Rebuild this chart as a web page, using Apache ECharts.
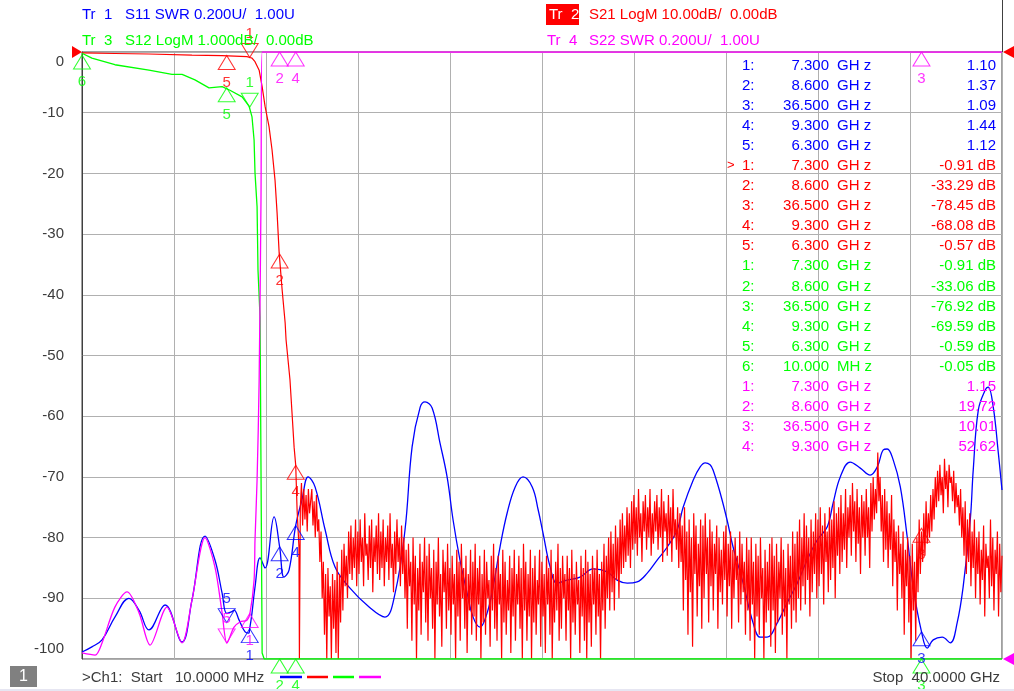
<!DOCTYPE html>
<html>
<head>
<meta charset="utf-8">
<script src="https://cdn.jsdelivr.net/npm/echarts/dist/echarts.min.js"></script>
<style>
  html, body { margin: 0; padding: 0; background: #fff; }
  #chart { width: 1014px; height: 691px; }
</style>
</head>
<body>
<div id="chart"></div>
<script>
// sweep
const startGHz = 0.01;
const stopGHz = 40;

// Tr 1  S11 SWR (0.2 U/div, ref 1.00 at bottom)
const s11GHz = [0.01, 0.44, 0.88, 1.44, 2.05, 2.49, 2.92, 3.62, 4.36, 4.79, 5.36, 5.79, 6.10, 6.30, 6.50, 6.62, 6.84, 7.10, 7.25, 7.30, 7.40, 7.53, 7.75, 7.97, 8.36, 8.60, 8.79, 9.01, 9.30, 9.57, 9.84, 10.14, 10.58, 11.01, 11.62, 12.49, 13.18, 13.62, 14.05, 14.36, 14.71, 14.92, 15.23, 15.57, 15.88, 16.14, 16.44, 16.75, 17.01, 17.31, 17.62, 17.88, 18.18, 18.49, 18.84, 19.18, 19.58, 19.84, 20.05, 20.36, 20.66, 21.10, 21.66, 22.23, 22.84, 23.27, 23.71, 24.14, 24.58, 25.01, 25.45, 25.88, 26.14, 26.58, 26.88, 27.10, 27.31, 27.44, 27.75, 28.05, 28.31, 28.75, 29.18, 29.49, 29.79, 30.23, 30.66, 31.10, 31.53, 31.97, 32.40, 32.66, 32.97, 33.40, 33.84, 34.27, 34.58, 34.84, 35.01, 35.27, 35.58, 35.88, 36.14, 36.50, 36.75, 37.01, 37.40, 37.75, 38.05, 38.31, 38.62, 38.75, 38.97, 39.27, 39.40, 39.62, 39.84, 40.00];
const s11Swr = [1.023, 1.04, 1.063, 1.138, 1.20, 1.16, 1.096, 1.178, 1.056, 1.194, 1.405, 1.326, 1.217, 1.15, 1.155, 1.161, 1.128, 1.089, 1.085, 1.10, 1.152, 1.237, 1.333, 1.30, 1.468, 1.37, 1.27, 1.293, 1.44, 1.524, 1.60, 1.567, 1.425, 1.303, 1.237, 1.171, 1.138, 1.217, 1.425, 1.70, 1.83, 1.847, 1.827, 1.712, 1.60, 1.458, 1.326, 1.217, 1.138, 1.105, 1.152, 1.237, 1.369, 1.481, 1.567, 1.60, 1.567, 1.491, 1.415, 1.303, 1.25, 1.26, 1.27, 1.297, 1.287, 1.26, 1.25, 1.254, 1.283, 1.326, 1.369, 1.425, 1.50, 1.59, 1.633, 1.646, 1.64, 1.623, 1.547, 1.458, 1.369, 1.25, 1.119, 1.072, 1.072, 1.119, 1.185, 1.25, 1.326, 1.392, 1.435, 1.514, 1.60, 1.649, 1.629, 1.606, 1.633, 1.689, 1.692, 1.656, 1.567, 1.402, 1.237, 1.09, 1.036, 1.063, 1.072, 1.053, 1.119, 1.237, 1.458, 1.623, 1.82, 1.886, 1.896, 1.83, 1.679, 1.557];

// Tr 2  S21 LogM (10 dB/div, ref 0 dB at top): passband + skirt, then stopband noise
const s21GHz = [0.01, 1.44, 2.92, 4.79, 6.10, 7.18, 7.31, 7.40, 7.53, 7.71, 7.84, 7.97, 8.14, 8.27, 8.40, 8.49, 8.58, 8.71, 8.84, 8.88, 9.05, 9.14, 9.23, 9.30, 9.36, 9.44, 9.46];
const s21Db = [-0.16, -0.25, -0.33, -0.5, -0.6, -0.77, -0.91, -1.0, -1.6, -3.0, -5.7, -9.0, -12.3, -16.1, -21.1, -26.5, -33.1, -39.2, -44.6, -47.4, -54.0, -59.5, -65.1, -68.1, -75.5, -81.5, -100];
const s21NoiseStartGHz = 9.5;
const s21NoiseStepGHz = 0.05;
const s21NoiseDb = [
  -75, -71, -78, -72, -77, -73, -79, -72, -76, -74,
  -72, -78, -74, -80, -73, -79, -77, -84, -79, -90, -84, -96, -86, -100, -85, -93, -88, -100, -86, -95,
  -87, -99, -84, -100, -86, -94, -82, -92, -81, -88, -83, -90, -79, -86, -78, -87, -80, -85, -77, -88,
  -79, -86, -77, -84, -80, -88, -76, -83, -81, -87, -78, -85, -77, -89, -80, -84, -78, -86, -76, -87,
  -79, -85, -77, -88, -80, -84, -78, -87, -76, -85, -81, -89, -79, -86, -77, -84, -80, -88, -78, -86,
  -80, -90, -82, -95, -81, -88, -84, -97, -80, -91, -83, -100, -85, -92, -81, -96, -84, -89, -80, -94,
  -83, -97, -81, -90, -85, -95, -82, -100, -84, -91, -80, -93, -86, -98, -82, -89, -84, -95, -81, -92,
  -85, -96, -83, -91, -86, -100, -82, -93, -84, -97, -81, -90, -85, -95, -83, -99, -86, -92, -82, -96,
  -84, -93, -81, -97, -85, -91, -83, -100, -86, -94, -82, -96, -84, -90, -87, -98, -83, -92, -81, -95,
  -85, -97, -83, -91, -86, -100, -82, -94, -84, -96, -87, -92, -83, -99, -85, -93, -82, -97, -86, -91,
  -83, -95, -85, -100, -81, -92, -84, -97, -86, -93, -82, -100, -85, -94, -83, -96, -87, -91, -82, -98,
  -84, -93, -86, -99, -83, -91, -85, -96, -82, -100, -86, -94, -84, -92, -81, -97, -85, -95, -83, -90,
  -86, -97, -83, -92, -85, -100, -82, -94, -86, -96, -84, -91, -87, -99, -83, -93, -85, -97, -82, -100,
  -84, -94, -86, -98, -83, -91, -85, -96, -82, -93, -86, -100, -84, -92, -81, -95, -83, -90, -80, -92,
  -79, -89, -81, -92, -78, -87, -80, -90, -77, -86, -76, -85, -78, -84, -75, -83, -76, -85, -74, -82,
  -73, -81, -75, -83, -72, -80, -76, -84, -74, -79, -73, -82, -75, -80, -72, -83, -76, -81, -74, -79,
  -73, -82, -75, -80, -72, -84, -74, -79, -76, -83, -73, -81, -75, -84, -72, -80, -77, -82, -75, -85,
  -76, -84, -78, -92, -75, -87, -79, -96, -77, -89, -80, -98, -76, -86, -78, -93, -81, -88, -77, -95,
  -78, -90, -76, -86, -80, -94, -77, -88, -79, -92, -81, -86, -78, -95, -80, -89, -82, -91, -79, -87,
  -78, -93, -81, -88, -79, -95, -82, -90, -80, -87, -83, -94, -79, -91, -81, -89, -84, -96, -80, -92,
  -82, -97, -80, -91, -84, -100, -81, -93, -83, -96, -80, -90, -85, -100, -82, -94, -84, -92, -81, -98,
  -80, -92, -83, -99, -81, -94, -84, -90, -80, -96, -82, -93, -85, -100, -81, -91, -83, -95, -79, -92,
  -81, -94, -79, -90, -77, -92, -80, -88, -76, -91, -78, -87, -80, -93, -77, -89, -79, -86, -76, -90,
  -77, -88, -75, -86, -78, -91, -76, -84, -79, -89, -75, -87, -77, -85, -74, -90, -76, -83, -75, -86,
  -73, -84, -76, -82, -72, -85, -75, -80, -73, -83, -71, -79, -74, -84, -72, -81, -75, -86, -73, -80,
  -74, -83, -72, -80, -75, -85, -71, -79, -70, -77, -72, -76, -66, -74, -70, -79, -73, -84, -72, -82,
  -74, -85, -76, -82, -73, -88, -77, -84, -79, -92, -78, -86, -81, -90, -79, -96, -82, -88, -80, -94,
  -83, -100, -81, -92, -84, -97, -80, -89, -77, -86, -79, -84, -76, -83, -74, -81, -76, -80, -73, -79,
  -72, -77, -70, -75, -69, -74, -68, -73, -70, -76, -67, -72, -69, -75, -68, -71, -70, -74, -69, -76,
  -71, -75, -73, -78, -72, -80, -75, -83, -74, -86, -77, -84, -76, -88, -79, -85, -77, -90, -80, -86,
  -79, -91, -82, -87, -78, -93, -81, -85, -83, -90, -77, -88, -80, -92, -82, -86, -79, -93, -81, -89,
  -83
];

// Tr 3  S12 LogM (1 dB/div, ref 0 dB at top) - shown clipped at the bottom edge
const s12GHz = [0.01, 0.44, 1.44, 2.92, 3.92, 4.36, 4.92, 5.53, 6.10, 6.44, 6.97, 7.27, 7.40, 7.49, 7.53, 7.62, 7.66, 7.75, 7.84, 7.93, 40.0];
const s12Db = [-0.02, -0.10, -0.21, -0.30, -0.37, -0.37, -0.46, -0.59, -0.57, -0.63, -0.74, -0.89, -1.07, -1.45, -1.99, -2.55, -3.59, -4.37, -9.9, -10, -10];

// Tr 4  S22 SWR (0.2 U/div, ref 1.00 at bottom) - shown clipped at the top edge
const s22GHz = [0.01, 0.58, 0.88, 1.44, 1.97, 2.49, 2.97, 3.70, 4.36, 4.79, 5.36, 5.79, 6.10, 6.31, 6.62, 6.88, 7.18, 7.31, 7.49, 7.53, 7.62, 7.71, 7.79, 7.84, 40.0];
const s22Swr = [1.02, 1.013, 1.053, 1.171, 1.221, 1.152, 1.046, 1.171, 1.053, 1.194, 1.40, 1.303, 1.152, 1.053, 1.105, 1.122, 1.128, 1.15, 1.26, 1.392, 1.59, 1.919, 2.51, 3.0, 3.0];

// markers (number, frequency, readout)
const s11MkNo = [1, 2, 3, 4, 5];
const s11MkGHz = [7.3, 8.6, 36.5, 9.3, 6.3];
const s11MkVal = [1.10, 1.37, 1.09, 1.44, 1.12];
const s21MkNo = [1, 2, 3, 4, 5];
const s21MkGHz = [7.3, 8.6, 36.5, 9.3, 6.3];
const s21MkVal = [-0.91, -33.29, -78.45, -68.08, -0.57];
const s12MkNo = [1, 2, 3, 4, 5, 6];
const s12MkGHz = [7.3, 8.6, 36.5, 9.3, 6.3, 0.01];
const s12MkVal = [-0.91, -33.06, -76.92, -69.59, -0.59, -0.05];
const s22MkNo = [1, 2, 3, 4, 5];
const s22MkGHz = [7.3, 8.6, 36.5, 9.3, 6.3];
const s22MkVal = [1.15, 19.72, 10.01, 52.62, 1.053];
const s22TableRows = 4;

const s21TickLabels = ['0', '-10', '-20', '-30', '-40', '-50', '-60', '-70', '-80', '-90', '-100'];

const BLUE = '#0000ff', RED = '#ff0000', GREEN = '#00ff00', MAG = '#ff00ff';
const FONT = '"Liberation Sans", Arial, sans-serif';
const GRAY = '#3c3c3c';

function pairs(xs, ys) { return xs.map((x, i) => [x, ys[i]]); }

const s21Data = pairs(s21GHz, s21Db).concat(
  s21NoiseDb.map((v, i) => [+(s21NoiseStartGHz + i * s21NoiseStepGHz).toFixed(3), v])
);

const UP = 'path://M9,0L18,14L0,14Z';
const DOWN = 'path://M0,0L18,0L9,14Z';
function markerSeries(nos, ghz, vals, downNos, lo, hi, color, yIdx) {
  return {
    type: 'scatter', yAxisIndex: yIdx, clip: false, z: 5, silent: true,
    symbolSize: [17, 14],
    itemStyle: { color: 'rgba(0,0,0,0)', borderColor: color, borderWidth: 1 },
    label: { show: true, color: color, fontSize: 15, fontFamily: FONT },
    data: nos.map((n, i) => {
      const down = downNos.indexOf(n) >= 0;
      return {
        value: [ghz[i], Math.min(hi, Math.max(lo, vals[i]))],
        symbol: down ? DOWN : UP,
        symbolOffset: [0, down ? -7 : 7],
        label: { position: down ? 'top' : 'bottom', distance: down ? 2 : 5, formatter: String(n) }
      };
    })
  };
}

function txt(x, y, s, color, align, size) {
  return {
    type: 'text', x: x, y: y, z: 20, silent: true,
    style: {
      text: s, fill: color, font: (size || 15) + 'px ' + FONT,
      textAlign: align || 'left', textVerticalAlign: 'middle',
      align: align || 'left', verticalAlign: 'middle'
    }
  };
}

function fmtFreq(g) {
  return g >= 1 ? [g.toFixed(3), 'GH z'] : [(g * 1000).toFixed(3), 'MH z'];
}

// marker table
const table = [];
let row = 0;
function addTable(nos, ghz, vals, count, color, unit, activeNo) {
  for (let i = 0; i < count; i++) {
    const y = 65.5 + row * 20.08;
    const f = fmtFreq(ghz[i]);
    if (nos[i] === activeNo) table.push(txt(727, y, '>', color, 'left', 13));
    table.push(txt(742, y, nos[i] + ':', color));
    table.push(txt(829, y, f[0], color, 'right'));
    table.push(txt(837, y, f[1], color));
    table.push(txt(996, y, vals[i].toFixed(2) + unit, color, 'right'));
    row++;
  }
}
addTable(s11MkNo, s11MkGHz, s11MkVal, s11MkNo.length, BLUE, '', null);
addTable(s21MkNo, s21MkGHz, s21MkVal, s21MkNo.length, RED, ' dB', 1);
addTable(s12MkNo, s12MkGHz, s12MkVal, s12MkNo.length, GREEN, ' dB', null);
addTable(s22MkNo, s22MkGHz, s22MkVal, s22TableRows, MAG, '', null);

const chart = echarts.init(document.getElementById('chart'));
chart.setOption({
  animation: false,
  backgroundColor: '#ffffff',
  grid: { left: 82, right: 12, top: 52, bottom: 32, show: true, borderColor: '#404040', borderWidth: 1 },
  xAxis: [
    { type: 'value', min: startGHz, max: stopGHz, show: false },
    { type: 'value', min: 0, max: 10, interval: 1, axisLabel: { show: false }, axisTick: { show: false },
      axisLine: { show: false }, splitLine: { show: true, lineStyle: { color: '#b0b0b0', width: 1 } } }
  ],
  yAxis: [
    { type: 'value', min: -100, max: 0, interval: 10,
      axisLine: { show: true, lineStyle: { color: '#404040' } }, axisTick: { show: false },
      splitLine: { show: true, lineStyle: { color: '#b0b0b0', width: 1 } },
      axisLabel: {
        margin: 18, color: GRAY, fontSize: 15, fontFamily: FONT,
        formatter: function (v) {
          const s = s21TickLabels[Math.round(-v / 10)];
          if (v === 0) return '{t|' + s + '}';
          if (v === -100) return '{b|' + s + '}';
          return s;
        },
        rich: {
          t: { color: GRAY, fontSize: 15, fontFamily: FONT, padding: [20, 0, 0, 0] },
          b: { color: GRAY, fontSize: 15, fontFamily: FONT, padding: [0, 0, 20, 0] }
        }
      } },
    { type: 'value', min: 1, max: 3, show: false },
    { type: 'value', min: -10, max: 0, show: false }
  ],
  series: [
    { type: 'line', yAxisIndex: 1, data: pairs(s11GHz, s11Swr), showSymbol: false, symbol: 'none', smooth: 0.4,
      lineStyle: { color: BLUE, width: 1.3 }, z: 2 },
    { type: 'line', yAxisIndex: 0, data: s21Data, showSymbol: false, symbol: 'none',
      lineStyle: { color: RED, width: 1.2 }, z: 3 },
    { type: 'line', yAxisIndex: 2, data: pairs(s12GHz, s12Db), showSymbol: false, symbol: 'none',
      lineStyle: { color: GREEN, width: 1.3 }, z: 3 },
    { type: 'line', yAxisIndex: 1, data: pairs(s22GHz, s22Swr), showSymbol: false, symbol: 'none', smooth: 0.3,
      lineStyle: { color: MAG, width: 1.3 }, z: 3 },
    markerSeries(s11MkNo, s11MkGHz, s11MkVal, [5], 1, 3, BLUE, 1),
    markerSeries(s21MkNo, s21MkGHz, s21MkVal, [1], -100, 0, RED, 0),
    markerSeries(s12MkNo, s12MkGHz, s12MkVal, [1], -10, 0, GREEN, 2),
    markerSeries(s22MkNo, s22MkGHz, s22MkVal, [5], 1, 3, MAG, 1)
  ],
  graphic: [
    // trace headers
    txt(82, 15, 'Tr  1', BLUE), txt(125, 15, 'S11 SWR 0.200U/  1.00U', BLUE),
    txt(82, 41, 'Tr  3', GREEN), txt(125, 41, 'S12 LogM 1.000dB/  0.00dB', GREEN),
    { type: 'rect', shape: { x: 546, y: 4, width: 33, height: 21 }, style: { fill: RED }, z: 19, silent: true },
    txt(549, 15, 'Tr  2', '#ffffff'), txt(589, 15, 'S21 LogM 10.00dB/  0.00dB', RED),
    txt(547, 41, 'Tr  4', MAG), txt(589, 41, 'S22 SWR 0.200U/  1.00U', MAG),
    // right frame line above the grid
    { type: 'line', shape: { x1: 1002.5, y1: 0, x2: 1002.5, y2: 52 }, style: { stroke: '#404040', lineWidth: 1 }, z: 19, silent: true },
    // reference pointers
    { type: 'polygon', shape: { points: [[72, 46], [82, 52], [72, 58]] }, style: { fill: RED }, z: 19, silent: true },
    { type: 'polygon', shape: { points: [[1014, 46], [1003, 52], [1014, 58]] }, style: { fill: RED }, z: 19, silent: true },
    { type: 'polygon', shape: { points: [[1014, 653], [1003, 659], [1014, 665]] }, style: { fill: MAG }, z: 19, silent: true },
    // footer
    { type: 'rect', shape: { x: 10, y: 666, width: 27, height: 21 }, style: { fill: '#808080' }, z: 19, silent: true },
    txt(23.5, 677, '1', '#ffffff', 'center', 16),
    txt(82, 678, '>Ch1:  Start   ' + (startGHz * 1000).toFixed(4) + ' MHz', GRAY),
    txt(1000, 678, 'Stop  ' + stopGHz.toFixed(4) + ' GHz', GRAY, 'right'),
    { type: 'line', shape: { x1: 280, y1: 677, x2: 302, y2: 677 }, style: { stroke: BLUE, lineWidth: 2.5 }, z: 19, silent: true },
    { type: 'line', shape: { x1: 307, y1: 677, x2: 328, y2: 677 }, style: { stroke: RED, lineWidth: 2.5 }, z: 19, silent: true },
    { type: 'line', shape: { x1: 333, y1: 677, x2: 354, y2: 677 }, style: { stroke: GREEN, lineWidth: 2.5 }, z: 19, silent: true },
    { type: 'line', shape: { x1: 359, y1: 677, x2: 381, y2: 677 }, style: { stroke: MAG, lineWidth: 2.5 }, z: 19, silent: true },
    { type: 'rect', shape: { x: 0, y: 689, width: 1014, height: 2 }, style: { fill: '#e6e6f2' }, z: 19, silent: true }
  ].concat(table)
});
</script>
</body>
</html>
